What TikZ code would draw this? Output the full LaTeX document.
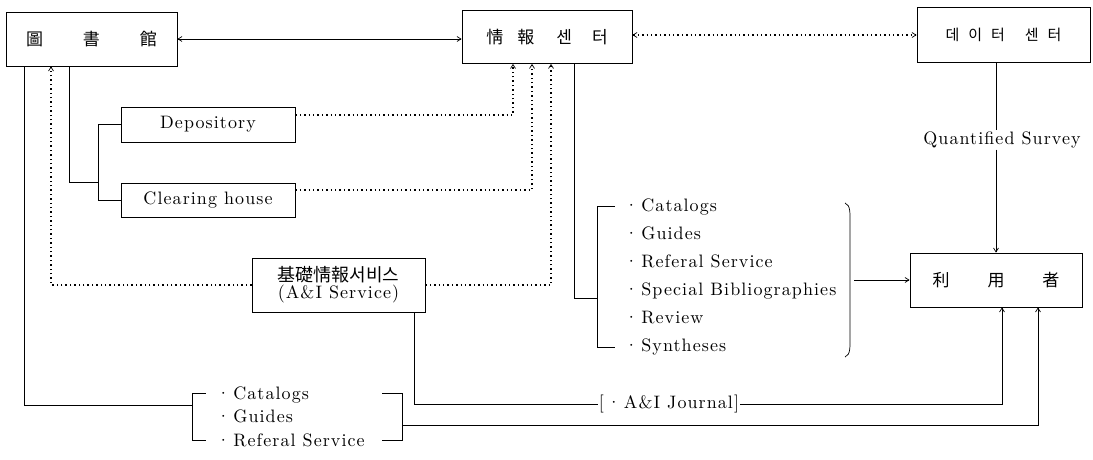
\documentclass[tikz,border=0pt]{standalone}
\usepackage{fontspec}
\newfontfamily\cjk{Noto Sans CJK KR}
\newfontfamily\latfam[LetterSpace=6]{lmroman10-regular.otf}
\usetikzlibrary{arrows.meta}
\newcommand\latf{\latfam\fontsize{18}{20}\selectfont}
\newcommand\bul{·\hspace{3pt}}
\begin{document}
\begin{tikzpicture}[x=1pt,y=-1pt,
  line width=0.7pt,
  mytip/.tip={Straight Barb[length=4pt,width=5pt,line width=0.7pt]},
  box/.style={draw,line width=0.8pt,inner sep=0pt},
  lat/.style={font=\latf,inner sep=1pt},
  item/.style={font=\latf,inner sep=0pt,anchor=base west},
  dots/.style={line width=1.5pt,dash pattern=on 1.4pt off 3pt},
  arr/.style={-mytip}]
\path[fill=white,use as bounding box] (0,0) rectangle (1093,460);

% boxes
\node[box,minimum width=171pt,minimum height=54pt] (lib) at (91.5,39)
  {\cjk\fontsize{17}{17}\selectfont 圖\hspace{40pt}書\hspace{40pt}館};
\node[box,minimum width=170pt,minimum height=53pt] (info) at (547,37)
  {\cjk\fontsize{17}{17}\selectfont 情\hspace{14pt}報\hspace{22pt}센\hspace{20pt}터};
\node[box,minimum width=173pt,minimum height=55pt] (data) at (1003.5,35)
  {\cjk\fontsize{15}{15}\selectfont 데\hspace{9pt}이\hspace{9pt}터\hspace{20pt}센\hspace{9pt}터};
\node[box,lat,inner sep=0pt,minimum width=174pt,minimum height=35pt] (dep) at (208,124.5) {Depository};
\node[box,lat,inner sep=0pt,minimum width=174pt,minimum height=34pt] (clr) at (208,200) {Clearing house};
\node[box,font=\latf,align=center,minimum width=173pt,minimum height=54pt] (ai) at (338.5,285)
  {{\cjk\fontsize{18}{20}\selectfont 基礎情報서비스}\\[-3pt](A\&I Service)};
\node[box,minimum width=172pt,minimum height=54pt] (user) at (996,280)
  {\cjk\fontsize{17}{17}\selectfont 利\hspace{38pt}用\hspace{38pt}者};
\node[lat] (qs) at (1002,140) {Quantified Survey};

% middle list
\node[item] (m1) at (624,211) {\bul Catalogs};
\node[item] (m2) at (624,239) {\bul Guides};
\node[item] (m3) at (624,267) {\bul Referal Service};
\node[item] (m4) at (624,295) {\bul Special Bibliographies};
\node[item] (m5) at (624,323) {\bul Review};
\node[item] (m6) at (624,351) {\bul Syntheses};

% bottom list
\node[item] (b1t) at (216,399) {\bul Catalogs};
\node[item] (b2t) at (216,422) {\bul Guides};
\node[item] (b3t) at (216,446) {\bul Referal Service};

% A&I Journal
\node[lat] (jl) at (669,404) {[\hspace{3pt}\bul A\&I Journal]};

% coordinates
\coordinate (k1) at (99,182);
\coordinate (k2) at (597,298);
\coordinate (mt) at (615,206);
\coordinate (mtv) at (597,206);
\coordinate (mbv) at (597,347);
\coordinate (mb) at (615,347);
\coordinate (lt) at (206,393);
\coordinate (ltv) at (192,393);
\coordinate (lbv) at (192,440);
\coordinate (lb) at (206,440);
\coordinate (k4) at (192,405);
\coordinate (rt) at (382,393);
\coordinate (rtv) at (402,393);
\coordinate (rbv) at (402,440);
\coordinate (rb) at (382,440);
\coordinate (k3) at (402,425);
\coordinate (bt) at (845,203);
\coordinate (bb) at (845,357);
\coordinate (bo) at (854,280);

% top arrows
\draw[mytip-mytip] (lib.east) -- (lib.east -| info.west);
\draw[dots,mytip-mytip] (data.west -| info.east) -- (data.west);

% library to depository/clearing bracket
\draw (dep.west) -- ++(-22,0) |- (clr.west);
\draw ([xshift=-22.5pt]lib.south) |- (k1);

% dotted to info center
\draw[dots,arr] ([yshift=9.5pt]dep.east) -| ([xshift=-34pt]info.south);
\draw[dots,arr] ([yshift=10pt]clr.east) -| ([xshift=-15pt]info.south);
\draw[dots,arr] (ai.east) -| ([xshift=4pt]info.south);
\draw[dots,arr] (ai.west) -| ([xshift=-40.5pt]lib.south);

% info center to middle list
\draw ([xshift=27pt]info.south) |- (k2);
\draw (mt) -- (mtv) -- (mbv) -- (mb);
\draw (bt) .. controls (851,205) and (850,214) .. (850,228) -- (850,332)
  .. controls (850,346) and (851,355) .. (bb);
\draw[arr] (bo) -- (bo -| user.west);

% data center to user
\draw (data.south -| user.north) -- (qs.north -| user.north);
\draw[arr] (qs.south -| user.north) -- (user.north);

% bottom list
\draw (ltv) -- (lt);
\draw (ltv) -- (lbv) -- (lb);
\draw (rt) -- (rtv) -- (rbv) -- (rb);
\draw ([xshift=-67pt]lib.south) |- (k4);
\draw[arr] (k3) -| ([xshift=42pt]user.south);

% A&I service to journal to user
\draw ([xshift=75.5pt]ai.south) |- (jl.west);
\draw[arr] (jl.east) -| ([xshift=6pt]user.south);
\end{tikzpicture}
\end{document}
